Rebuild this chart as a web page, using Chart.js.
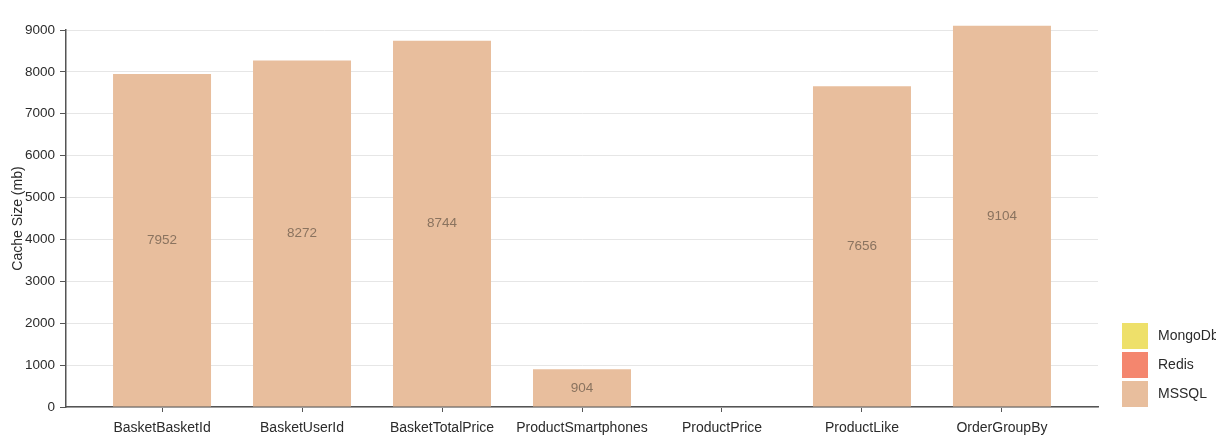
<!DOCTYPE html>
<html>
<head>
<meta charset="utf-8">
<script src="https://cdn.jsdelivr.net/npm/chart.js@4.4.1/dist/chart.umd.min.js"></script>
<style>
  html, body { margin: 0; padding: 0; background: #ffffff; }
  #wrap { width: 1216px; height: 435px; position: relative; }
</style>
</head>
<body>
<div id="wrap"><canvas id="chart" width="1216" height="435"></canvas></div>
<script>
// Query categories along the x axis
const categories = ['BasketBasketId', 'BasketUserId', 'BasketTotalPrice', 'ProductSmartphones', 'ProductPrice', 'ProductLike', 'OrderGroupBy'];

// Cache size per store (mb)
const mssqlValues = [7952, 8272, 8744, 904, 0, 7656, 9104];
const redisValues = [0, 0, 0, 0, 0, 0, 0];
const mongoValues = [0, 0, 0, 0, 0, 0, 0];

// Y axis ticks
const yTicks = [0, 1000, 2000, 3000, 4000, 5000, 6000, 7000, 8000, 9000];

const FONT = '"Liberation Sans", Arial, Helvetica, sans-serif';
const TEXT = '#2b2b2b';
const AXIS = '#555555';

function toPoints(values) {
  return values.map((v, i) => ({ x: i, y: v }));
}

// Value labels centred inside each non-empty bar segment
const valueLabels = {
  id: 'valueLabels',
  afterDatasetsDraw(chart) {
    const ctx = chart.ctx;
    ctx.save();
    ctx.font = '13.5px ' + FONT;
    ctx.fillStyle = '#8a735f';
    ctx.textAlign = 'center';
    ctx.textBaseline = 'middle';
    chart.data.datasets.forEach((ds, di) => {
      const meta = chart.getDatasetMeta(di);
      meta.data.forEach((bar, i) => {
        const v = ds.data[i].y;
        if (!v) return;
        ctx.fillText(String(v), bar.x, (bar.y + bar.base) / 2);
      });
    });
    ctx.restore();
  }
};

// Stacked colour key at the lower right, last series on top
const sideLegend = {
  id: 'sideLegend',
  afterDraw(chart) {
    const ctx = chart.ctx;
    const area = chart.chartArea;
    const size = 26, gap = 3, boxX = 1122, textX = 1158;
    ctx.save();
    ctx.font = '14px ' + FONT;
    ctx.textAlign = 'left';
    ctx.textBaseline = 'middle';
    chart.data.datasets.forEach((ds, k) => {
      const top = area.bottom - size - k * (size + gap);
      ctx.fillStyle = ds.backgroundColor;
      ctx.fillRect(boxX, top, size, size);
      ctx.fillStyle = TEXT;
      ctx.fillText(ds.label, textX, top + size / 2);
    });
    ctx.restore();
  }
};

new Chart(document.getElementById('chart'), {
  type: 'bar',
  data: {
    datasets: [
      { label: 'MSSQL', data: toPoints(mssqlValues), backgroundColor: '#e8be9d', clip: false },
      { label: 'Redis', data: toPoints(redisValues), backgroundColor: '#f4866e', clip: false },
      { label: 'MongoDb', data: toPoints(mongoValues), backgroundColor: '#eee06a', clip: false }
    ]
  },
  options: {
    responsive: false,
    animation: false,
    events: [],
    layout: { padding: { left: 0, right: 118, top: 30, bottom: 0 } },
    datasets: { bar: { categoryPercentage: 1, barPercentage: 0.7, borderWidth: 0 } },
    plugins: { legend: { display: false }, tooltip: { enabled: false } },
    scales: {
      x: {
        type: 'linear',
        stacked: true,
        offset: false,
        min: -0.686,
        max: 6.686,
        afterBuildTicks(axis) { axis.ticks = categories.map((_, i) => ({ value: i })); },
        afterFit(scale) { scale.height = 28; },
        ticks: {
          autoSkip: false,
          maxRotation: 0,
          padding: 8,
          color: TEXT,
          font: { family: FONT, size: 14 },
          callback: (v) => categories[v]
        },
        grid: { offset: false, drawOnChartArea: false, drawTicks: true, tickLength: 5, tickColor: AXIS, tickWidth: 1 },
        border: { display: true, color: AXIS, width: 1.5 }
      },
      y: {
        stacked: true,
        min: 0,
        max: 9000,
        afterBuildTicks(axis) { axis.ticks = yTicks.map((v) => ({ value: v })); },
        afterFit(scale) { scale.width = 66; },
        ticks: {
          padding: 5,
          color: TEXT,
          font: { family: FONT, size: 13.5 },
          callback: (v) => String(v)
        },
        grid: { color: '#e6e6e6', lineWidth: 1, tickLength: 6, tickColor: AXIS },
        border: { display: true, color: AXIS, width: 1.5 },
        title: {
          display: true,
          text: 'Cache Size (mb)',
          color: TEXT,
          font: { family: FONT, size: 14 },
          padding: { top: 10, bottom: 0 }
        }
      }
    }
  },
  plugins: [valueLabels, sideLegend]
});
</script>
</body>
</html>
